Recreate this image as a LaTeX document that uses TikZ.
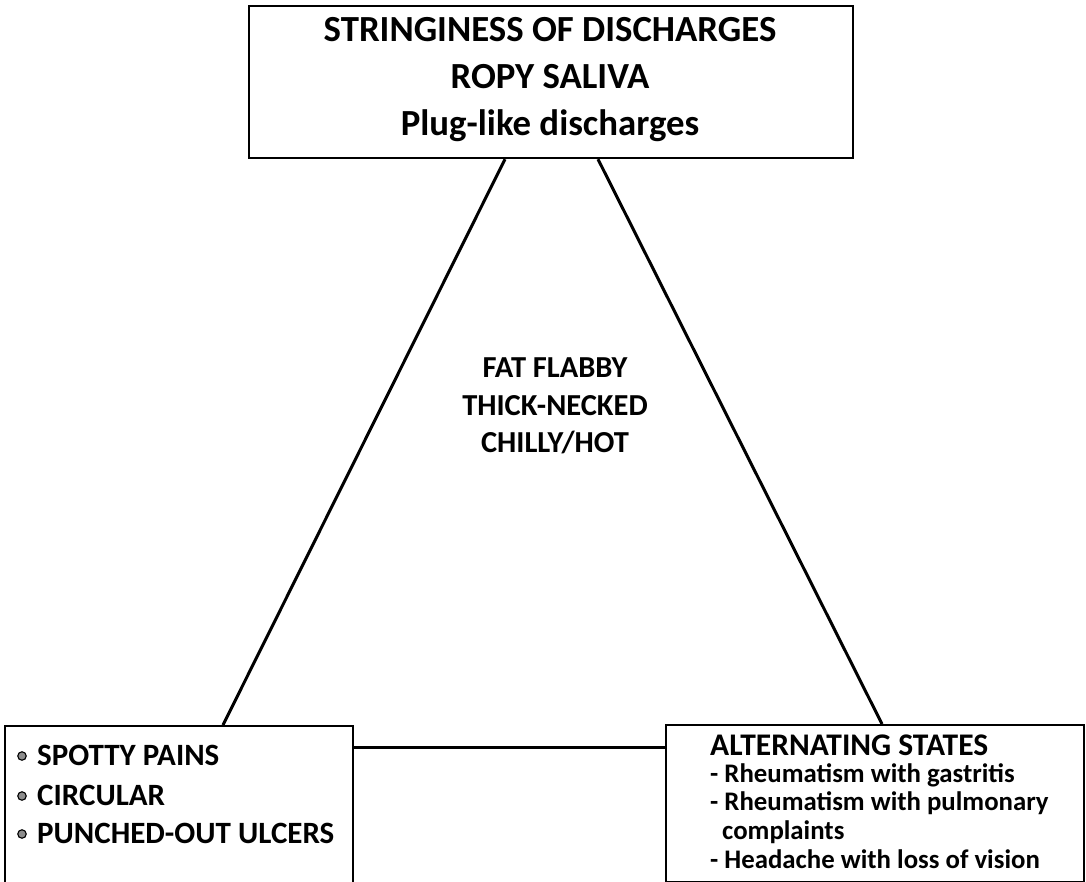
\documentclass[tikz,border=0pt]{standalone}
\usepackage{fontspec}
\setmainfont{Carlito}
\usetikzlibrary{calc}
\begin{document}
\begin{tikzpicture}[x=1pt,y=-1pt,
  boxline/.style={draw=black,line width=2.2pt},
  conn/.style={draw=black,line width=3pt},
  txt/.style={inner sep=0pt,anchor=base,font=\bfseries\fontsize{#1}{#1}\selectfont},
  ltxt/.style={inner sep=0pt,anchor=base west,font=\bfseries\fontsize{#1}{#1}\selectfont},
  bul/.style={circle,draw=black,fill=black!45,line width=1.1pt,minimum size=8.5pt,inner sep=0pt}]
\useasboundingbox (0,0) rectangle (1086,882);
\clip (0,0) rectangle (1086,882);
% boxes
\node[boxline,rectangle,anchor=north west,minimum width=604pt,minimum height=152pt,inner sep=0pt] (top) at (248,5) {};
\node[boxline,rectangle,anchor=north west,minimum width=348pt,minimum height=200pt,inner sep=0pt] (left) at (4,725) {};
\node[boxline,rectangle,anchor=north west,minimum width=418pt,minimum height=157pt,inner sep=0pt] (right) at (665,724) {};
% connector ends on the box borders
\coordinate (tA) at ($(top.south west)+(257,0)$);
\coordinate (tB) at ($(top.south west)+(350,0)$);
\coordinate (lA) at ($(left.north west)+(219,0)$);
\coordinate (rA) at ($(right.north west)+(217,0)$);
\coordinate (lE) at ($(left.north east)+(0,22)$);
\coordinate (rE) at ($(right.north west)+(0,23)$);
\draw[conn] (tA) -- (lA);
\draw[conn] (tB) -- (rA);
\draw[conn] (lE) -- (rE);
% top box text
\node[txt=36.8] (t1) at (550,42) {STRINGINESS OF DISCHARGES};
\node[txt=36.8] (t2) at (550,89) {ROPY SALIVA};
\node[txt=36.8] (t3) at (550,136) {Plug-like discharges};
% centre text
\node[txt=30.5] (c1) at (555,377) {FAT FLABBY};
\node[txt=30.5] (c2) at (555,415) {THICK-NECKED};
\node[txt=30.5] (c3) at (555,452) {CHILLY/HOT};
% left box
\node[bul] (b1) at (22,756) {};
\node[bul] (b2) at (22,796) {};
\node[bul] (b3) at (22,834) {};
\node[ltxt=31] (l1) at (37,765) {SPOTTY PAINS};
\node[ltxt=31] (l2) at (37,805) {CIRCULAR};
\node[ltxt=31] (l3) at (37,843) {PUNCHED-OUT ULCERS};
% right box
\node[ltxt=31.5] (r0) at (710,755) {ALTERNATING STATES};
\node[ltxt=26.8] (r1) at (710,782) {- Rheumatism with gastritis};
\node[ltxt=26.8] (r2) at (710,810) {- Rheumatism with pulmonary};
\node[ltxt=26.8] (r3) at (722,839) {complaints};
\node[ltxt=26.8] (r4) at (710,868) {- Headache with loss of vision};
\end{tikzpicture}
\end{document}
